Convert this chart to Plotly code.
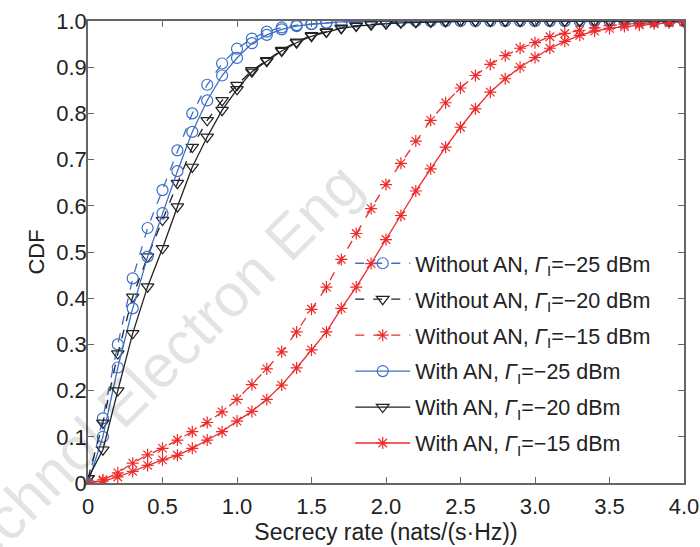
import plotly.graph_objects as go

rate = [round(0.1 * i, 1) for i in range(41)]

blue_wo = [0, 0.14, 0.30, 0.443, 0.552, 0.634, 0.72, 0.80, 0.862, 0.908, 0.94, 0.962, 0.977, 0.986, 0.991,
           0.994, 0.996, 0.998, 0.999, 0.999] + [1.0] * 21
blue_w = [0, 0.10, 0.25, 0.378, 0.49, 0.584, 0.675, 0.76, 0.828, 0.882, 0.92, 0.952, 0.97, 0.982, 0.989,
          0.993, 0.996, 0.998, 0.999, 0.999] + [1.0] * 21
black_wo = [0.01, 0.13, 0.28, 0.403, 0.49, 0.569, 0.649, 0.727, 0.785, 0.828, 0.861, 0.893, 0.915, 0.937,
            0.955, 0.969, 0.977, 0.985, 0.99, 0.993, 0.995, 0.997, 0.998, 0.999] + [1.0] * 17
black_w = [0.01, 0.072, 0.20, 0.324, 0.425, 0.508, 0.598, 0.684, 0.749, 0.807, 0.852, 0.89, 0.913, 0.935,
           0.953, 0.967, 0.976, 0.984, 0.989, 0.992, 0.994, 0.996, 0.997, 0.998, 0.999] + [1.0] * 16
red_wo = [0, 0.007, 0.022, 0.043, 0.061, 0.075, 0.093, 0.111, 0.131, 0.154, 0.181, 0.213, 0.247, 0.284,
          0.327, 0.376, 0.424, 0.484, 0.54, 0.594, 0.646, 0.692, 0.740, 0.785, 0.823, 0.855, 0.882, 0.906,
          0.925, 0.941, 0.953, 0.966, 0.973, 0.98, 0.985, 0.99, 0.993, 0.995, 0.997, 0.998, 0.999]
red_w = [0, 0.004, 0.013, 0.025, 0.038, 0.05, 0.06, 0.075, 0.093, 0.111, 0.134, 0.155, 0.181, 0.212,
         0.249, 0.288, 0.327, 0.378, 0.424, 0.475, 0.527, 0.579, 0.632, 0.680, 0.727, 0.770, 0.810, 0.846,
         0.875, 0.900, 0.921, 0.941, 0.956, 0.969, 0.978, 0.984, 0.988, 0.991, 0.994, 0.996, 0.998]

x_ticks = [0, 0.5, 1.0, 1.5, 2.0, 2.5, 3.0, 3.5, 4.0]
x_ticktext = ["0", "0.5", "1.0", "1.5", "2.0", "2.5", "3.0", "3.5", "4.0"]
y_ticks = [0, 0.1, 0.2, 0.3, 0.4, 0.5, 0.6, 0.7, 0.8, 0.9, 1.0]
y_ticktext = ["0", "0.1", "0.2", "0.3", "0.4", "0.5", "0.6", "0.7", "0.8", "0.9", "1.0"]

names = [
    "Without AN, <i>Γ</i><sub>I</sub>=−25 dBm",
    "Without AN, <i>Γ</i><sub>I</sub>=−20 dBm",
    "Without AN, <i>Γ</i><sub>I</sub>=−15 dBm",
    "With AN, <i>Γ</i><sub>I</sub>=−25 dBm",
    "With AN, <i>Γ</i><sub>I</sub>=−20 dBm",
    "With AN, <i>Γ</i><sub>I</sub>=−15 dBm",
]
series = [blue_wo, black_wo, red_wo, blue_w, black_w, red_w]
colors = ["#3d6fc6", "#222222", "#ee2a2a", "#3d6fc6", "#222222", "#ee2a2a"]
symbols = ["circle-open", "triangle-down-open", "asterisk-open"] * 2
sizes = [11, 11, 10] * 2
dashes = ["dash"] * 3 + ["solid"] * 3

FONT = "Liberation Sans, Arial"

fig = go.Figure()
for i, (nm, ys) in enumerate(zip(names, series)):
    fig.add_trace(go.Scatter(
        x=rate, y=ys, name=nm, mode="lines+markers",
        legendgroup=f"g{i}",
        line=dict(color=colors[i], width=1.3, dash=dashes[i]),
        marker=dict(symbol=symbols[i], size=sizes[i], color=colors[i],
                    line=dict(color=colors[i], width=1.2)),
    ))

axis_common = dict(
    showline=True, linecolor="#666666", linewidth=1.5, mirror="ticks",
    ticks="inside", ticklen=6, tickcolor="#666666", tickwidth=1.2,
    showgrid=False, zeroline=False, automargin=False,
    tickfont=dict(family=FONT, size=22, color="#222222"),
)

fig.update_xaxes(range=[0, 4.0], tickvals=x_ticks, ticktext=x_ticktext,
                 ticklabelstandoff=3,
                 title=dict(text="Secrecy rate (nats/(s·Hz))", standoff=4,
                            font=dict(family=FONT, size=23, color="#222222")),
                 **axis_common)
fig.update_yaxes(range=[0, 1.0], tickvals=y_ticks, ticktext=y_ticktext,
                 ticklabelstandoff=-5,
                 title=dict(text="CDF", standoff=6,
                            font=dict(family=FONT, size=22, color="#222222")),
                 **axis_common)

fig.update_layout(
    width=700, height=547,
    margin=dict(l=88, r=16, t=21, b=64),
    plot_bgcolor="white", paper_bgcolor="white",
    font=dict(family=FONT, size=22, color="#222222"),
    legend=dict(x=0.44, y=0.52, xanchor="left", yanchor="top",
                bgcolor="rgba(255,255,255,0)", borderwidth=0,
                font=dict(family=FONT, size=21.5, color="#222222"),
                itemwidth=55, tracegroupgap=5),
    showlegend=True,
)

fig.add_annotation(
    text="Technol Electron Eng", xref="paper", yref="paper",
    x=0.105, y=0.235, xanchor="center", yanchor="middle", showarrow=False, textangle=-45,
    font=dict(family=FONT, size=60, color="rgba(0,0,0,0.11)"),
)

fig.write_html(
    "out.html",
    config={"displayModeBar": False},
    post_script="document.body.style.margin='0';document.body.style.overflow='hidden';",
)
